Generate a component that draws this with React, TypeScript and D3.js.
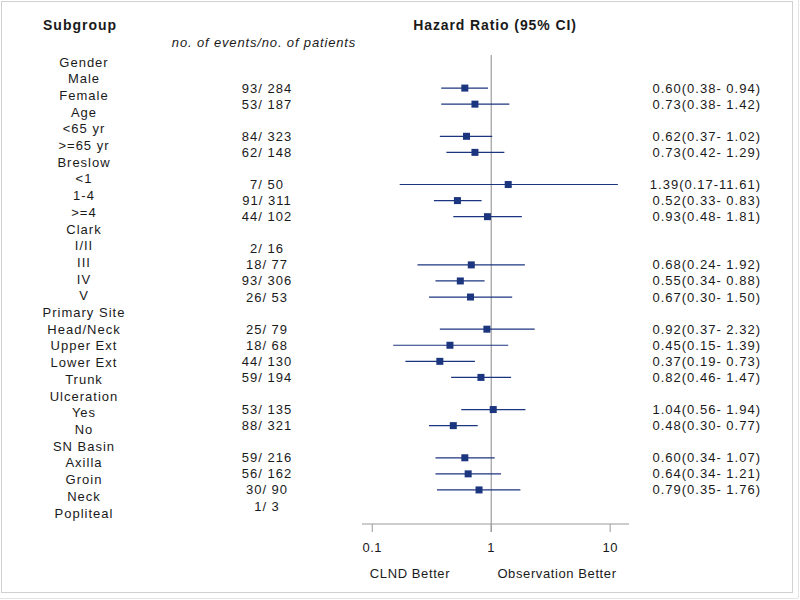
import React from "react";
import * as d3 from "d3";

const labels = ["Gender","Male","Female","Age","<65 yr",">=65 yr","Breslow","<1","1-4",">=4","Clark","I/II","III","IV","V","Primary Site","Head/Neck","Upper Ext","Lower Ext","Trunk","Ulceration","Yes","No","SN Basin","Axilla","Groin","Neck","Popliteal"];
const events = [null,93,53,null,84,62,null,7,91,44,null,2,18,93,26,null,25,18,44,59,null,53,88,null,59,56,30,1];
const patients = [null,284,187,null,323,148,null,50,311,102,null,16,77,306,53,null,79,68,130,194,null,135,321,null,216,162,90,3];
const hr = [null,0.60,0.73,null,0.62,0.73,null,1.39,0.52,0.93,null,null,0.68,0.55,0.67,null,0.92,0.45,0.37,0.82,null,1.04,0.48,null,0.60,0.64,0.79,null];
const lower = [null,0.38,0.38,null,0.37,0.42,null,0.17,0.33,0.48,null,null,0.24,0.34,0.30,null,0.37,0.15,0.19,0.46,null,0.56,0.30,null,0.34,0.34,0.35,null];
const upper = [null,0.94,1.42,null,1.02,1.29,null,11.61,0.83,1.81,null,null,1.92,0.88,1.50,null,2.32,1.39,0.73,1.47,null,1.94,0.77,null,1.07,1.21,1.76,null];
const xTicks = [0.1, 1, 10];
const xTickLabels = ["0.1", "1", "10"];

const W = 800, H = 600;
const font = "'Liberation Sans', Arial, sans-serif";
const textColor = "#1a1a1a";
const navy = "#1c357f";

export default function App() {
  const n = labels.length;
  const yLabel = d3.scaleLinear().domain([0, n - 1]).range([62, 513]);
  const yData = d3.scaleLinear().domain([0, n - 1]).range([72, 506]);
  const x = d3.scaleLog().domain([0.082, 14.4]).range([362, 629]);
  const axisY = 524;
  const f2 = d3.format(".2f");

  return (
    <svg width={W} height={H} style={{ position: "absolute", left: 0, top: 0, background: "#fff" }}>
      <rect x={0} y={0} width={W} height={H} fill="#fff" />
      <rect x={1.5} y={1.5} width={791} height={591} fill="none" stroke="#d0d0d0" strokeWidth={1} />
      <line x1={798.5} y1={0} x2={798.5} y2={598} stroke="#e4e4e4" />
      <line x1={0} y1={598.5} x2={798} y2={598.5} stroke="#e4e4e4" />

      <text x={43} y={30} fontFamily={font} fontWeight="bold" fontSize={14} letterSpacing={1} fill={textColor}>Subgroup</text>
      <text x={495} y={30} textAnchor="middle" fontFamily={font} fontWeight="bold" fontSize={14} letterSpacing={0.9} fill={textColor}>Hazard Ratio (95% CI)</text>
      <text x={264} y={47} textAnchor="middle" fontFamily={font} fontStyle="italic" fontSize={13} letterSpacing={0.85} fill={textColor}>no. of events/no. of patients</text>

      {labels.map((l, i) => (
        <text key={"l" + i} x={84} y={yLabel(i) + 4.5} textAnchor="middle" fontFamily={font} fontSize={13} letterSpacing={1} fill={textColor}>{l}</text>
      ))}

      {events.map((e, i) => e == null ? null : (
        <text key={"n" + i} x={267} y={yData(i) + 4.5} textAnchor="middle" fontFamily={font} fontSize={13} letterSpacing={1} fill={textColor}>{`${e}/ ${patients[i]}`}</text>
      ))}

      <line x1={x(1)} y1={55} x2={x(1)} y2={axisY + 8} stroke="#8a8a8a" strokeWidth={1} />
      <line x1={362} y1={axisY} x2={629} y2={axisY} stroke="#9a9a9a" strokeWidth={1} />
      {xTicks.map((t, i) => (
        <g key={"t" + i}>
          <line x1={x(t)} y1={axisY} x2={x(t)} y2={axisY + 8} stroke="#9a9a9a" />
          <text x={x(t)} y={552} textAnchor="middle" fontFamily={font} fontSize={13} letterSpacing={0.5} fill={textColor}>{xTickLabels[i]}</text>
        </g>
      ))}
      <text x={410} y={578} textAnchor="middle" fontFamily={font} fontSize={13} letterSpacing={0.6} fill={textColor}>CLND Better</text>
      <text x={557} y={578} textAnchor="middle" fontFamily={font} fontSize={13} letterSpacing={0.6} fill={textColor}>Observation Better</text>

      {hr.map((h, i) => h == null ? null : (
        <g key={"h" + i}>
          <line x1={x(lower[i] as number)} x2={x(upper[i] as number)} y1={yData(i)} y2={yData(i)} stroke={navy} strokeWidth={1.2} />
          <rect x={x(h) - 3.5} y={yData(i) - 3.5} width={7} height={7} fill={navy} />
          <text x={761} y={yData(i) + 4.5} textAnchor="end" fontFamily={font} fontSize={13} letterSpacing={1} fill={textColor} style={{ whiteSpace: "pre" }}>
            {`${f2(h)}(${f2(lower[i] as number)}-${f2(upper[i] as number).padStart(5, " ")})`}
          </text>
        </g>
      ))}
    </svg>
  );
}
